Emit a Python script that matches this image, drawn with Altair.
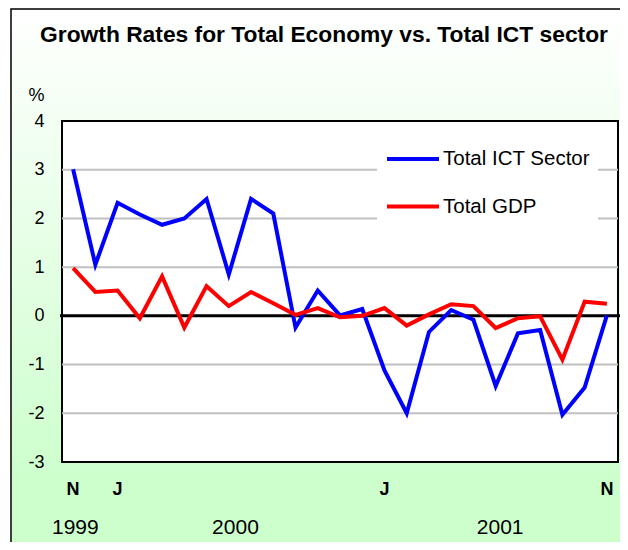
import altair as alt
import pandas as pd

# ---- data ----
months = list(range(25))  # Nov 1999 ... Nov 2001
ict = [3.01, 1.05, 2.32, 2.08, 1.87, 2.0, 2.4, 0.85, 2.4, 2.1, -0.24, 0.52, 0.01,
       0.14, -1.12, -2.0, -0.33, 0.12, -0.08, -1.44, -0.36, -0.29, -2.03, -1.47, 0.01]
gdp = [0.98, 0.49, 0.52, -0.05, 0.81, -0.24, 0.61, 0.2, 0.49, 0.26, 0.02, 0.16, -0.03,
       0.0, 0.16, -0.2, 0.03, 0.24, 0.2, -0.25, -0.05, -0.01, -0.9, 0.29, 0.25]
series_names = ["Total ICT Sector", "Total GDP"]
series_colors = ["#0000FF", "#FF0000"]
month_labels = ["N", "J", "J", "N"]
month_pos = [0, 2, 14, 24]
year_labels = ["1999", "2000", "2001"]
year_pos = [0.1, 7.3, 19.2]
y_ticks = [-3, -2, -1, 0, 1, 2, 3, 4]
grid_vals = [-2, -1, 1, 2, 3]
title_text = ["Growth Rates for Total Economy vs. Total ICT sector"]

FONT = "Liberation Sans, Arial, sans-serif"
W, H = 556, 341

df = pd.DataFrame({
    "idx": months * 2,
    "value": ict + gdp,
    "series": [series_names[0]] * len(ict) + [series_names[1]] * len(gdp),
})
grid_df = pd.DataFrame({"v": grid_vals})
zero_df = pd.DataFrame({"v": [0]})
mlab_df = pd.DataFrame({"idx": month_pos, "lab": month_labels})
ylab_df = pd.DataFrame({"idx": year_pos, "lab": year_labels})
title_df = pd.DataFrame({"t": title_text})

xs = alt.Scale(domain=[-0.5, 24.5], nice=False, zero=False)
ys = alt.Scale(domain=[-3, 4], nice=False, zero=False)

bg_grad = alt.Gradient(
    gradient="linear",
    stops=[alt.GradientStop(color="#FFFFFF", offset=0),
           alt.GradientStop(color="#CCFFCC", offset=0.88),
           alt.GradientStop(color="#CCFFCC", offset=1)],
    x1=0, x2=0, y1=0, y2=1)

one = alt.Data(values=[{"a": 1}])

background = alt.Chart(one).mark_rect(fill=bg_grad, stroke="black", strokeWidth=1.5).encode(
    x=alt.value(-51), x2=alt.value(570), y=alt.value(-112), y2=alt.value(430))

plot_rect = alt.Chart(one).mark_rect(fill="white", stroke="black", strokeWidth=2).encode(
    x=alt.value(0), x2=alt.value(W), y=alt.value(0), y2=alt.value(H))

grid = alt.Chart(grid_df).mark_rule(color="#C0C0C0", strokeWidth=2).encode(
    y=alt.Y("v:Q", scale=ys,
            axis=alt.Axis(values=y_ticks, grid=False, ticks=False, domain=False,
                          labelExpr="'' + datum.value",
                          labelFontSize=18, labelFont=FONT, labelColor="black",
                          labelPadding=18, zindex=1,
                          title="%", titleAngle=0, titleX=-26, titleY=-26,
                          titleAlign="center", titleBaseline="middle",
                          titleFontSize=18, titleFontWeight="normal",
                          titleFont=FONT, titleColor="black")))

lines = alt.Chart(df).mark_line(strokeWidth=4, strokeJoin="miter").encode(
    x=alt.X("idx:Q", scale=xs, axis=None),
    y=alt.Y("value:Q", scale=ys),
    color=alt.Color("series:N",
                    scale=alt.Scale(domain=series_names, range=series_colors),
                    sort=series_names,
                    legend=alt.Legend(title=None, orient="none", legendX=315, legendY=2,
                                      symbolType="stroke", symbolSize=2704,
                                      symbolStrokeWidth=4, labelFontSize=20.5,
                                      labelFont=FONT, labelColor="black",
                                      labelOffset=2, fillColor="white", padding=8,
                                      rowPadding=8.6)),
    detail="series:N")

zero = alt.Chart(zero_df).mark_rule(color="black", strokeWidth=3).encode(
    y=alt.Y("v:Q", scale=ys), x=alt.value(-2), x2=alt.value(W + 2))

mlab = alt.Chart(mlab_df).mark_text(fontSize=18, fontWeight="bold", font=FONT,
                                    color="black", baseline="middle").encode(
    x=alt.X("idx:Q", scale=xs), y=alt.value(369), text="lab:N")

ylab = alt.Chart(ylab_df).mark_text(fontSize=21, font=FONT, color="black",
                                    baseline="middle").encode(
    x=alt.X("idx:Q", scale=xs), y=alt.value(407), text="lab:N")

title = alt.Chart(title_df).mark_text(fontSize=22.8, fontWeight="bold", font=FONT,
                                      color="black", baseline="alphabetic",
                                      align="center").encode(
    x=alt.value(262), y=alt.value(-79), text="t:N")

chart = alt.layer(background, plot_rect, grid, zero, lines, mlab, ylab, title).properties(
    width=W, height=H,
    autosize=alt.AutoSizeParams(type="none"),
    padding={"left": 54, "top": 113, "right": 2, "bottom": 80},
).configure_view(stroke=None, fill=None).configure(background="white")

chart.save("out.html", embed_options={"renderer": "svg", "actions": False})
